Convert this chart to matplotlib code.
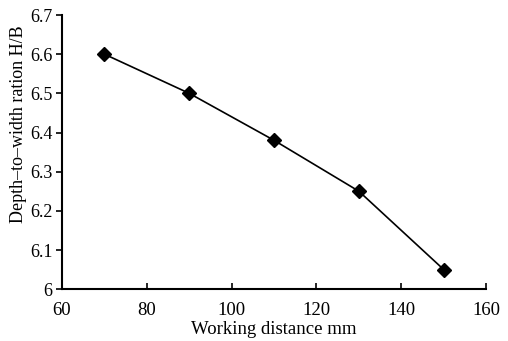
import matplotlib
matplotlib.use("Agg")
import matplotlib.pyplot as plt

distance = [70, 90, 110, 130, 150]
ratio = [6.60, 6.50, 6.38, 6.25, 6.05]
x_ticks = [60, 80, 100, 120, 140, 160]
y_ticks = [6, 6.1, 6.2, 6.3, 6.4, 6.5, 6.6, 6.7]
y_labels = ["6", "6.1", "6.2", "6.3", "6.4", "6.5", "6.6", "6.7"]

plt.rcParams['font.family'] = ['Liberation Serif', 'DejaVu Serif']

fig = plt.figure(figsize=(5.08, 3.41), dpi=100)
ax = fig.add_axes([0.122, 0.152, 0.835, 0.804])

ax.plot(distance, ratio, color='black', linewidth=1.2, marker='D', markersize=7)

ax.set_xlim(60, 160)
ax.set_ylim(6, 6.7)
ax.set_xticks(x_ticks)
ax.set_yticks(y_ticks)
ax.set_yticklabels(y_labels)
ax.spines['top'].set_visible(False)
ax.spines['right'].set_visible(False)
ax.spines['left'].set_linewidth(1.5)
ax.spines['bottom'].set_linewidth(1.5)
ax.tick_params(axis='x', direction='in', length=4, width=1.2, labelsize=13.5, pad=9)
ax.tick_params(axis='y', direction='out', length=4, width=1.2, labelsize=13, pad=3)
ax.set_xlabel("Working distance mm", fontsize=13.5, labelpad=2)
ax.set_ylabel("Depth\u2013to\u2013width ration H/B", fontsize=13)
ax.yaxis.set_label_coords(-0.082, 0.60)

fig.savefig("out.png", dpi=100)
